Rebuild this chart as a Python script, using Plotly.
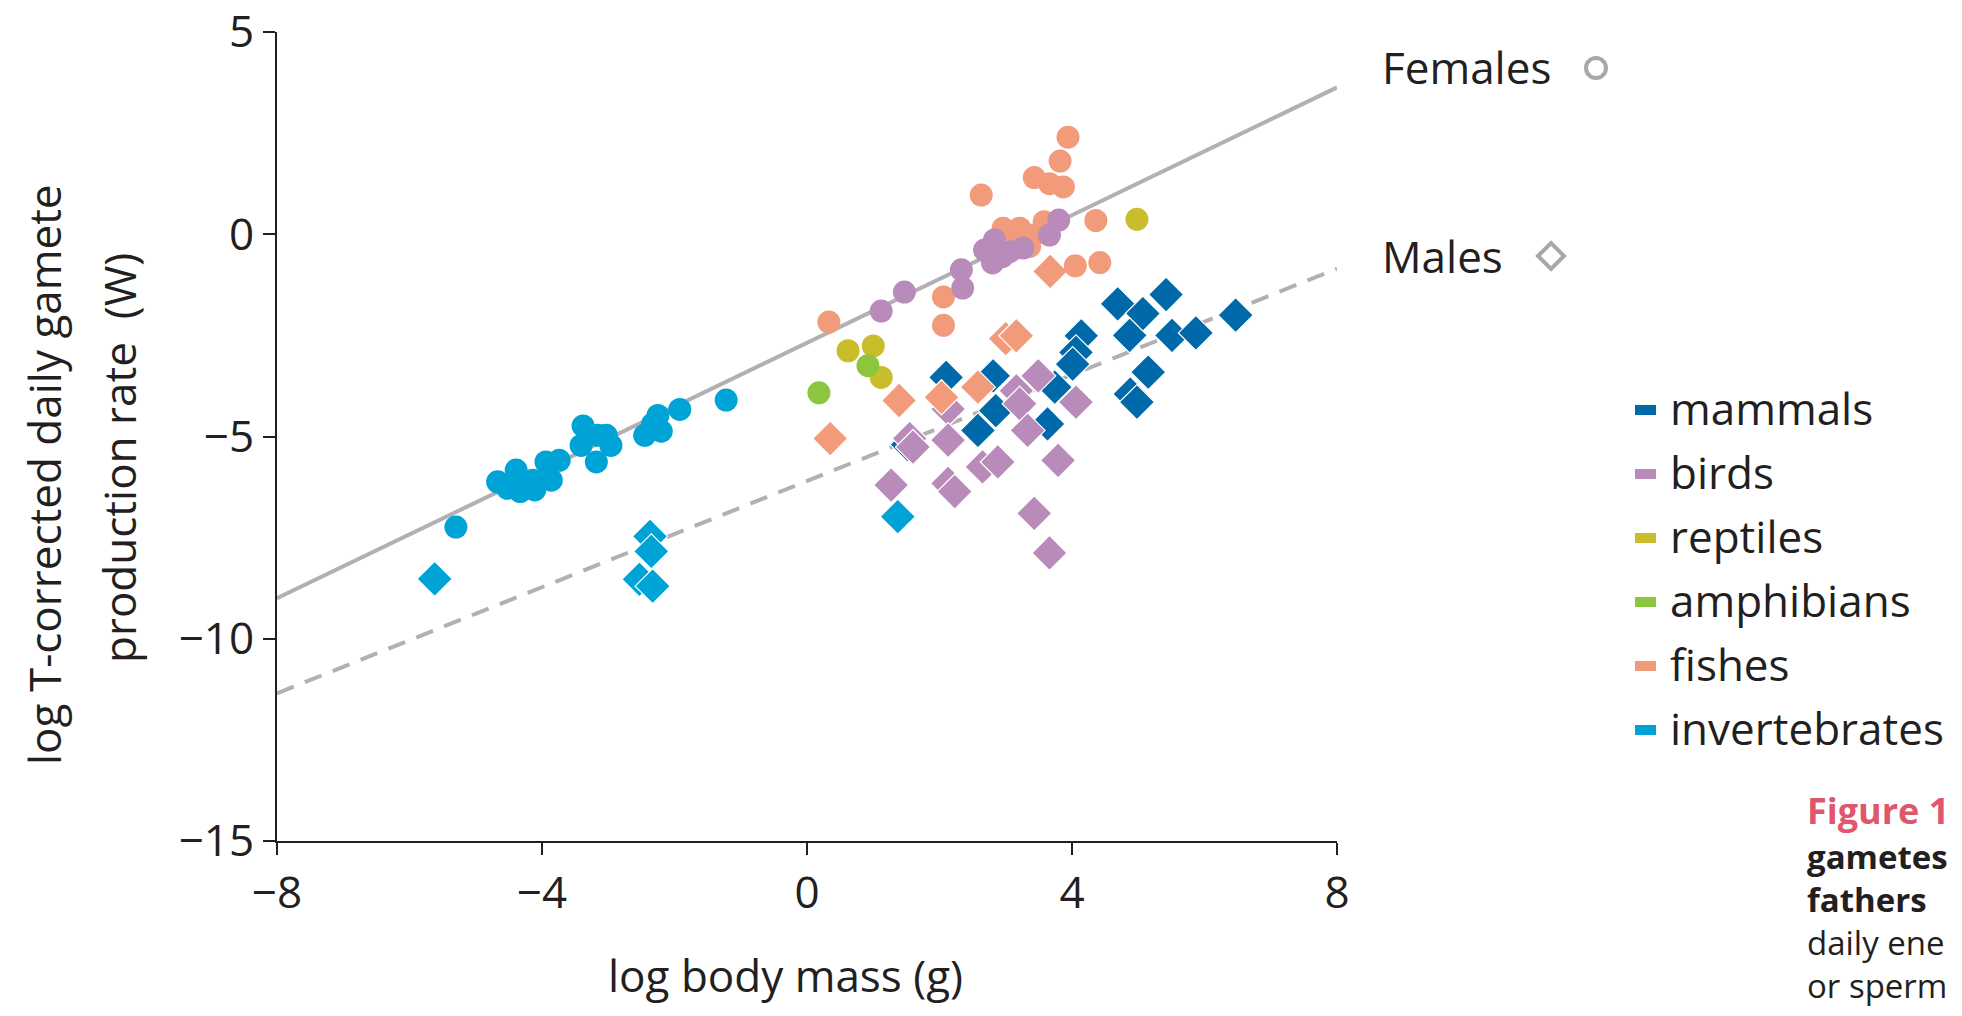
import plotly.graph_objects as go

# ---------------- data ----------------
x_ticks = [-8, -4, 0, 4, 8]
x_tick_labels = ["\u22128", "\u22124", "0", "4", "8"]
y_ticks = [-15, -10, -5, 0, 5]
y_tick_labels = ["\u221215", "\u221210", "\u22125", "0", "5"]

# regression lines (endpoints read at x = -8 and x = 8)
line_x = [-8, 8]
females_line_y = [-9.0, 3.63]
males_line_y = [-11.35, -0.85]

# females (circles)
fish_f_x = [0.33, 2.06, 2.06, 2.63, 2.96, 3.13, 3.21, 3.42, 3.36, 3.58, 3.43, 3.66, 3.87, 3.82, 3.94, 4.36, 4.05, 4.42]
fish_f_y = [-2.17, -1.55, -2.25, 0.97, 0.15, 0.05, 0.15, -0.02, -0.30, 0.31, 1.40, 1.25, 1.17, 1.81, 2.40, 0.34, -0.78, -0.70]
bird_f_x = [1.12, 1.47, 2.33, 2.35, 2.68, 2.83, 2.80, 2.95, 3.06, 3.26, 3.66, 3.80]
bird_f_y = [-1.90, -1.43, -0.88, -1.33, -0.39, -0.14, -0.71, -0.55, -0.43, -0.34, -0.02, 0.35]
rept_f_x = [0.62, 1.00, 1.12, 4.98]
rept_f_y = [-2.88, -2.76, -3.54, 0.37]
amph_f_x = [0.18, 0.92]
amph_f_y = [-3.92, -3.25]
inv_f_x = [-5.30, -4.67, -4.52, -4.39, -4.33, -4.11, -4.14, -3.94, -3.74, -3.86,
           -3.38, -3.41, -3.16, -3.03, -2.96, -3.18, -2.45, -2.33, -2.25, -2.20, -1.92, -1.22]
inv_f_y = [-7.24, -6.12, -6.28, -5.83, -6.36, -6.32, -6.08, -5.63, -5.59, -6.08,
           -4.74, -5.22, -4.97, -4.97, -5.22, -5.63, -4.97, -4.69, -4.48, -4.87, -4.33, -4.10]

# males (diamonds)
mam_m_x = [1.52, 2.10, 2.81, 2.85, 2.58, 3.74, 3.63, 4.14, 4.06, 4.01, 4.69, 5.07, 5.42, 4.87,
           5.51, 5.87, 6.47, 5.15, 4.88, 4.98]
mam_m_y = [-5.20, -3.54, -3.50, -4.36, -4.85, -3.78, -4.69, -2.51, -2.92, -3.21, -1.72, -1.96, -1.49, -2.50,
           -2.50, -2.44, -2.00, -3.41, -3.95, -4.15]
bird_m_x = [2.13, 1.55, 1.60, 2.13, 1.27, 2.13, 2.23, 2.65, 2.88, 3.16, 3.21, 3.49, 3.33, 4.06, 3.79, 3.43, 3.66]
bird_m_y = [-4.32, -5.05, -5.26, -5.09, -6.20, -6.16, -6.36, -5.75, -5.63, -3.87, -4.19, -3.50, -4.85, -4.15, -5.59, -6.90, -7.88]
fish_m_x = [0.35, 1.39, 2.03, 2.58, 3.00, 3.16, 3.67]
fish_m_y = [-5.05, -4.11, -4.03, -3.78, -2.58, -2.51, -0.92]
inv_m_x = [-5.62, -2.37, -2.35, -2.53, -2.33, 1.37]
inv_m_y = [-8.52, -7.47, -7.84, -8.53, -8.70, -6.98]

groups = ["mammals", "birds", "reptiles", "amphibians", "fishes", "invertebrates"]
colors = {
    "mammals": "#0069AA",
    "birds": "#B98BBA",
    "reptiles": "#C9BD2C",
    "amphibians": "#8CC63F",
    "fishes": "#F29B7B",
    "invertebrates": "#00A3D6",
}
line_color = "#B4AFB2"
ink = "#231F20"
FONT = "Open Sans"

# ---------------- geometry (pixels) ----------------
W, H = 1962, 1016
L, R, T, B = 277, 1962 - 1337, 32, 1016 - 841
PW, PH = W - L - R, H - T - B


def px(xp):
    return (xp - L) / PW


def py(yp):
    return (H - B - yp) / PH


fig = go.Figure()

# lines
fig.add_trace(go.Scatter(x=line_x, y=females_line_y, mode="lines",
                         line=dict(color=line_color, width=4), hoverinfo="skip"))
fig.add_trace(go.Scatter(x=line_x, y=males_line_y, mode="lines",
                         line=dict(color=line_color, width=4, dash="18px,12px"), hoverinfo="skip"))

DS = 27  # diamond size
CS = 23  # circle size


def diamonds(xs, ys, g):
    fig.add_trace(go.Scatter(x=xs, y=ys, mode="markers", name=g,
                             marker=dict(symbol="diamond", size=DS, color=colors[g],
                                         line=dict(color="white", width=1.2))))


def circles(xs, ys, g):
    fig.add_trace(go.Scatter(x=xs, y=ys, mode="markers", name=g,
                             marker=dict(symbol="circle", size=CS, color=colors[g],
                                         line=dict(width=0))))


diamonds(mam_m_x, mam_m_y, "mammals")
diamonds(bird_m_x, bird_m_y, "birds")
diamonds(fish_m_x, fish_m_y, "fishes")
diamonds(inv_m_x, inv_m_y, "invertebrates")
circles(fish_f_x, fish_f_y, "fishes")
circles(bird_f_x, bird_f_y, "birds")
circles(rept_f_x, rept_f_y, "reptiles")
circles(amph_f_x, amph_f_y, "amphibians")
circles(inv_f_x, inv_f_y, "invertebrates")

annotations = []
shapes = []

# y-axis title (two lines)
annotations.append(dict(xref="paper", yref="paper", x=px(44), y=py(475), text="log T-corrected daily gamete",
                        showarrow=False, textangle=-90, xanchor="center", yanchor="middle",
                        font=dict(family=FONT, size=44, color=ink)))
annotations.append(dict(xref="paper", yref="paper", x=px(119), y=py(458), text="production rate&nbsp;&nbsp;(W)",
                        showarrow=False, textangle=-90, xanchor="center", yanchor="middle",
                        font=dict(family=FONT, size=44, color=ink)))
# x-axis title
annotations.append(dict(xref="paper", yref="paper", x=px(785), y=py(975), text="log body mass (g)",
                        showarrow=False, xanchor="center", yanchor="middle",
                        font=dict(family=FONT, size=44, color=ink)))

# Females / Males labels
annotations.append(dict(xref="paper", yref="paper", x=px(1380), y=py(67), text="Females",
                        showarrow=False, xanchor="left", yanchor="middle",
                        font=dict(family=FONT, size=44, color=ink)))
annotations.append(dict(xref="paper", yref="paper", x=px(1380), y=py(256), text="Males",
                        showarrow=False, xanchor="left", yanchor="middle",
                        font=dict(family=FONT, size=44, color=ink)))
sym_col = "#A9A5A8"
cx, cy, r = 1596, 68, 10
shapes.append(dict(type="circle", xref="paper", yref="paper", x0=px(cx - r), x1=px(cx + r),
                   y0=py(cy + r), y1=py(cy - r), line=dict(color=sym_col, width=4)))
dx, dy, dr = 1551, 256, 13
shapes.append(dict(type="path", xref="paper", yref="paper",
                   path=f"M {px(dx - dr)} {py(dy)} L {px(dx)} {py(dy - dr)} L {px(dx + dr)} {py(dy)} L {px(dx)} {py(dy + dr)} Z",
                   line=dict(color=sym_col, width=4)))

# legend (colour bars + labels)
leg_y0, leg_dy = 410, 64
for i, g in enumerate(groups):
    yc = leg_y0 + i * leg_dy
    shapes.append(dict(type="rect", xref="paper", yref="paper", x0=px(1635), x1=px(1656),
                       y0=py(yc + 5), y1=py(yc - 5), fillcolor=colors[g], line=dict(width=0)))
    annotations.append(dict(xref="paper", yref="paper", x=px(1668), y=py(yc - 2), text=g,
                            showarrow=False, xanchor="left", yanchor="middle",
                            font=dict(family=FONT, size=44, color=ink)))

# caption fragment at the right edge
annotations.append(dict(xref="paper", yref="paper", x=px(1806), y=py(810), text="<b>Figure 1</b>",
                        showarrow=False, xanchor="left", yanchor="middle", borderpad=0,
                        font=dict(family=FONT, size=36, color="#E0566D")))
annotations.append(dict(xref="paper", yref="paper", x=px(1806), y=py(921),
                        text="<b>gametes</b><br><b>fathers</b><br>daily ene<br>or sperm",
                        showarrow=False, xanchor="left", yanchor="middle", align="left", borderpad=0,
                        font=dict(family=FONT, size=33, color=ink)))

axis_common = dict(showgrid=False, zeroline=False, showline=True, linecolor=ink, linewidth=2,
                   ticks="outside", ticklen=12, tickwidth=2, tickcolor=ink, automargin=False,
                   ticklabeloverflow="allow",
                   tickfont=dict(family=FONT, size=44, color=ink))

fig.update_layout(
    width=W, height=H,
    margin=dict(l=L, r=R, t=T, b=B, pad=0, autoexpand=False),
    paper_bgcolor="white", plot_bgcolor="white",
    showlegend=False,
    xaxis=dict(range=[-8, 8], tickmode="array", tickvals=x_ticks, ticktext=x_tick_labels, **axis_common),
    yaxis=dict(range=[-15.0001, 5.0001], tickmode="array", tickvals=y_ticks, ticktext=y_tick_labels,
               **axis_common),
    annotations=annotations,
    shapes=shapes,
)

fig.write_html("out.html", config={"displayModeBar": False},
               post_script="document.body.style.margin='0';")
